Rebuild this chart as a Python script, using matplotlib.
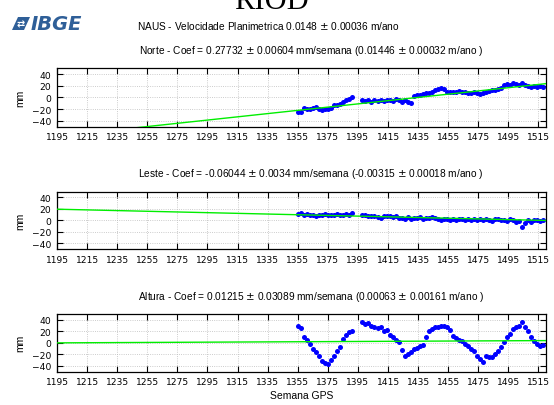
import matplotlib.pyplot as plt
from matplotlib.patches import Polygon
import numpy as np

plt.rcParams['font.family'] = ['Liberation Sans', 'DejaVu Sans']

# GPS weeks of the solutions (gap between 1391 and 1398)
weeks = list(range(1355, 1392, 2)) + list(range(1398, 1519, 2))

norte = [-24, -24, -18, -19, -19, -18, -17, -19, -21, -20, -19, -18, -13, -12, -11, -7, -5, -3, 0,
         -5, -6, -4, -7, -5, -6, -5, -6, -5, -4,
         -6, -3, -5, -7, -4, -8, -9, 2, 4, 5,
         6, 7, 8, 10, 13, 15, 16, 14, 9, 10,
         9, 10, 11, 10, 9, 8, 7, 9, 7, 6,
         8, 10, 11, 12, 13, 14, 17, 22, 23, 22,
         24, 23, 21, 24, 22, 19, 18, 19, 18, 20, 18]

leste = [11, 12, 10, 11, 9, 10, 8, 10, 9, 11, 10, 9, 10, 11, 9, 10, 11, 10, 12,
         9, 10, 8, 7, 8, 6, 5, 7, 8, 7,
         6, 8, 4, 5, 3, 6, 2, 5, 4, 6,
         3, 5, 4, 6, 5, 3, 1, 2, 3, 1,
         2, 0, 3, 2, 1, 3, 0, 2, 1, 3,
         0, 2, 1, -1, 2, 3, 0, 1, -1, 2,
         0, -3, -1, -11, -4, 0, -2, 1, 0, -1, 0]

altura = [30, 25, 10, 5, -2, -10, -16, -22, -31, -35, -37, -30, -22, -14, -8, 7, 13, 19, 20,
          36, 33, 35, 30, 28, 25, 27, 20, 22, 13,
          10, 5, 1, -13, -22, -19, -15, -10, -9, -6,
          -3, 10, 20, 24, 27, 28, 30, 29, 27, 22,
          12, 8, 5, 3, -2, -6, -10, -14, -22, -28,
          -34, -22, -24, -25, -20, -14, -8, 2, 10, 16,
          24, 27, 30, 36, 28, 20, 10, 3, -2, -6, -3]

# trend: slope (mm/semana) and value at week 1195 (mm)
slopes = [0.27732, -0.06044, 0.01215]
offsets = [-66.4, 19.5, 0.0]

titles = ['Norte - Coef = 0.27732 $\\pm$ 0.00604 mm/semana (0.01446 $\\pm$ 0.00032 m/ano )',
          'Leste - Coef = -0.06044 $\\pm$ 0.0034 mm/semana (-0.00315 $\\pm$ 0.00018 m/ano )',
          'Altura - Coef = 0.01215 $\\pm$ 0.03089 mm/semana (0.00063 $\\pm$ 0.00161 m/ano )']
series = [norte, leste, altura]

xticks = list(range(1195, 1516, 20))
yticks = [-40, -20, 0, 20, 40]

fig = plt.figure(figsize=(5.54, 4.06), dpi=100)
rects = [[0.1029, 0.6855, 0.8827, 0.1438],
         [0.1029, 0.3842, 0.8827, 0.1411],
         [0.1029, 0.0820, 0.8827, 0.1421]]

for rect, vals, title, m, b in zip(rects, series, titles, slopes, offsets):
    ax = fig.add_axes(rect)
    xl = np.array([1195, 1520])
    ax.plot(xl, b + m * (xl - 1195), color='#00ee00', lw=1, zorder=3)
    ax.plot(weeks, vals, 'o', color='#0000ff', ms=3.6, mew=0, zorder=2)
    ax.set_xlim(1195, 1520)
    ax.set_ylim(-50, 50)
    ax.set_xticks(xticks)
    ax.set_yticks(yticks)
    ax.tick_params(direction='in', top=True, right=True, length=4, pad=4)
    for lab in ax.get_xticklabels() + ax.get_yticklabels():
        lab.set_fontfamily('DejaVu Sans')
        lab.set_fontsize(6.6)
    ax.grid(True, ls=':', color='#bbbbbb', lw=0.6)
    ax.set_ylabel('mm', fontsize=7.5, labelpad=5)
    for s in ax.spines.values():
        s.set_linewidth(0.9)
    ax.set_title(title, fontsize=7.3, pad=11, x=0.52)

fig.axes[-1].set_xlabel('Semana GPS', fontsize=7.5, labelpad=3)

fig.text(0.49, 1 - 9 / 406, 'RIOD', family='Liberation Serif', fontsize=22,
         ha='center', va='baseline')

# IBGE logo
W, H = 554, 406
icon = [(12, 31), (18, 18), (30, 18), (24, 31)]
fig.patches.append(Polygon([(x / W, 1 - y / H) for x, y in icon], closed=True,
                           transform=fig.transFigure, facecolor='#2f5f98', edgecolor='none'))
fig.text(21 / W, 1 - 24.5 / H, '⇄', fontsize=7, color='white', fontweight='bold',
         family='DejaVu Sans', ha='center', va='center')
fig.text(31 / W, 1 - 24.5 / H, 'IBGE', fontsize=14, fontweight='bold', style='italic',
         family='DejaVu Sans', color='#2f5f98', va='center', ha='left')

fig.text(0.485, 1 - 26 / 406, 'NAUS - Velocidade Planimetrica 0.0148 $\\pm$ 0.00036 m/ano',
         fontsize=7.3, ha='center', va='center')

fig.savefig('out.png', dpi=100)
